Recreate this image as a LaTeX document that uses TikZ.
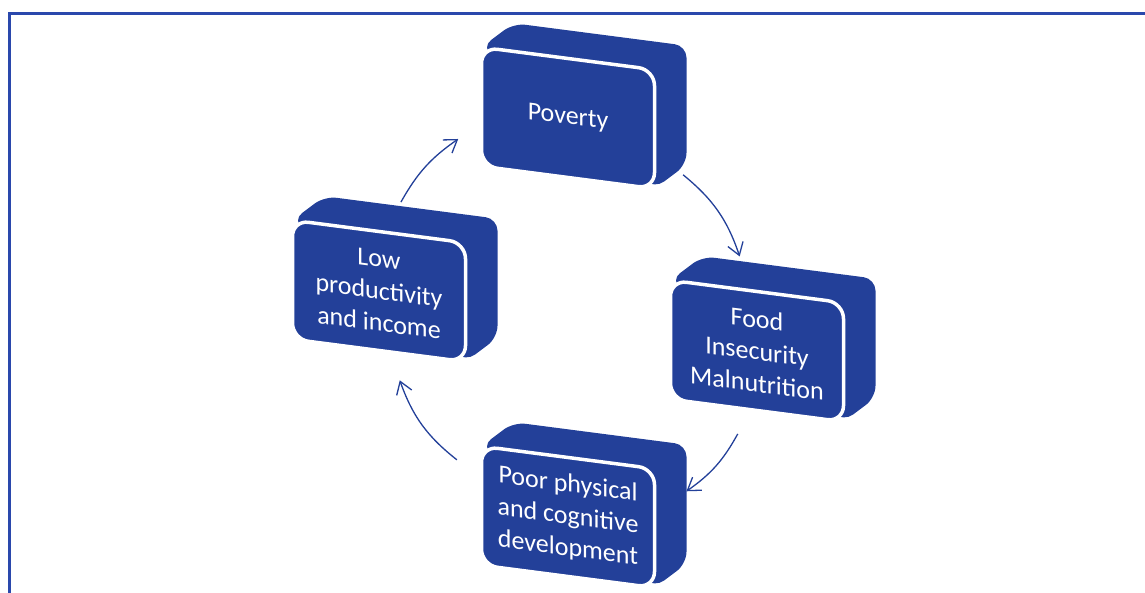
\documentclass[tikz,border=0pt]{standalone}
\usepackage{fontspec}
\setmainfont{Carlito}
\usetikzlibrary{arrows.meta, calc, backgrounds}
\definecolor{boxblue}{RGB}{35,64,153}
\definecolor{framecol}{RGB}{42,72,172}

\begin{document}
\begin{tikzpicture}[
    x=1pt, y=1pt,
    every node/.style={font=\fontsize{26}{32}\selectfont},
    face/.style={draw=white, line width=3.5pt, fill=boxblue, text=white,
      rounded corners=16pt, minimum width=173pt, minimum height=119pt,
      inner sep=2pt, outer sep=0pt, align=center, yslant=-0.13},
    cyc/.style={draw=boxblue, line width=1.3pt,
      -{Straight Barb[length=12pt,width=16pt]}},
  ]
  \useasboundingbox (0,0) rectangle (1145,593);
  \clip (0,0) rectangle (1145,593);
  \draw[framecol, line width=3pt] (9,-10) -- (9,579) -- (1160,579);

  \node[face] (pov) at (568,475) {Poverty};
  \node[face] (food) at (757,242) {Food\\Insecurity\\Malnutrition};
  \node[face] (poor) at (568,76) {Poor physical\\and cognitive\\development};
  \node[face] (low) at (379,302) {Low\\productivity\\and income};

  % back part of each block
  \begin{scope}[on background layer]
    \foreach \b in {pov,food,poor,low}
      \fill[boxblue, rounded corners=12pt] (\b.north west)
        -- ([shift={(32,24)}]\b.north west) -- ([shift={(32,24)}]\b.north east)
        -- ([shift={(32,24)}]\b.south east) -- (\b.south east) -- cycle;
  \end{scope}

  % cycle arrows
  \coordinate (mid) at (570,268);
  \coordinate (s1) at ($(mid)+(53:188)$);
  \coordinate (e1) at ($(mid)+(22:183)$);
  \coordinate (s2) at ($(mid)+(-33:200)$);
  \coordinate (e2) at ($(mid)+(-55:203)$);
  \coordinate (s3) at ($(mid)+(230:176)$);
  \coordinate (e3) at ($(mid)+(198:179)$);
  \coordinate (s4) at ($(mid)+(144:209)$);
  \coordinate (e4) at ($(mid)+(121:217)$);
  \draw[cyc] (s1) to[bend left=16] (e1);
  \draw[cyc] (s2) to[bend left=13] (e2);
  \draw[cyc] (s3) to[bend left=16] (e3);
  \draw[cyc] (s4) to[bend left=13] (e4);
\end{tikzpicture}
\end{document}
